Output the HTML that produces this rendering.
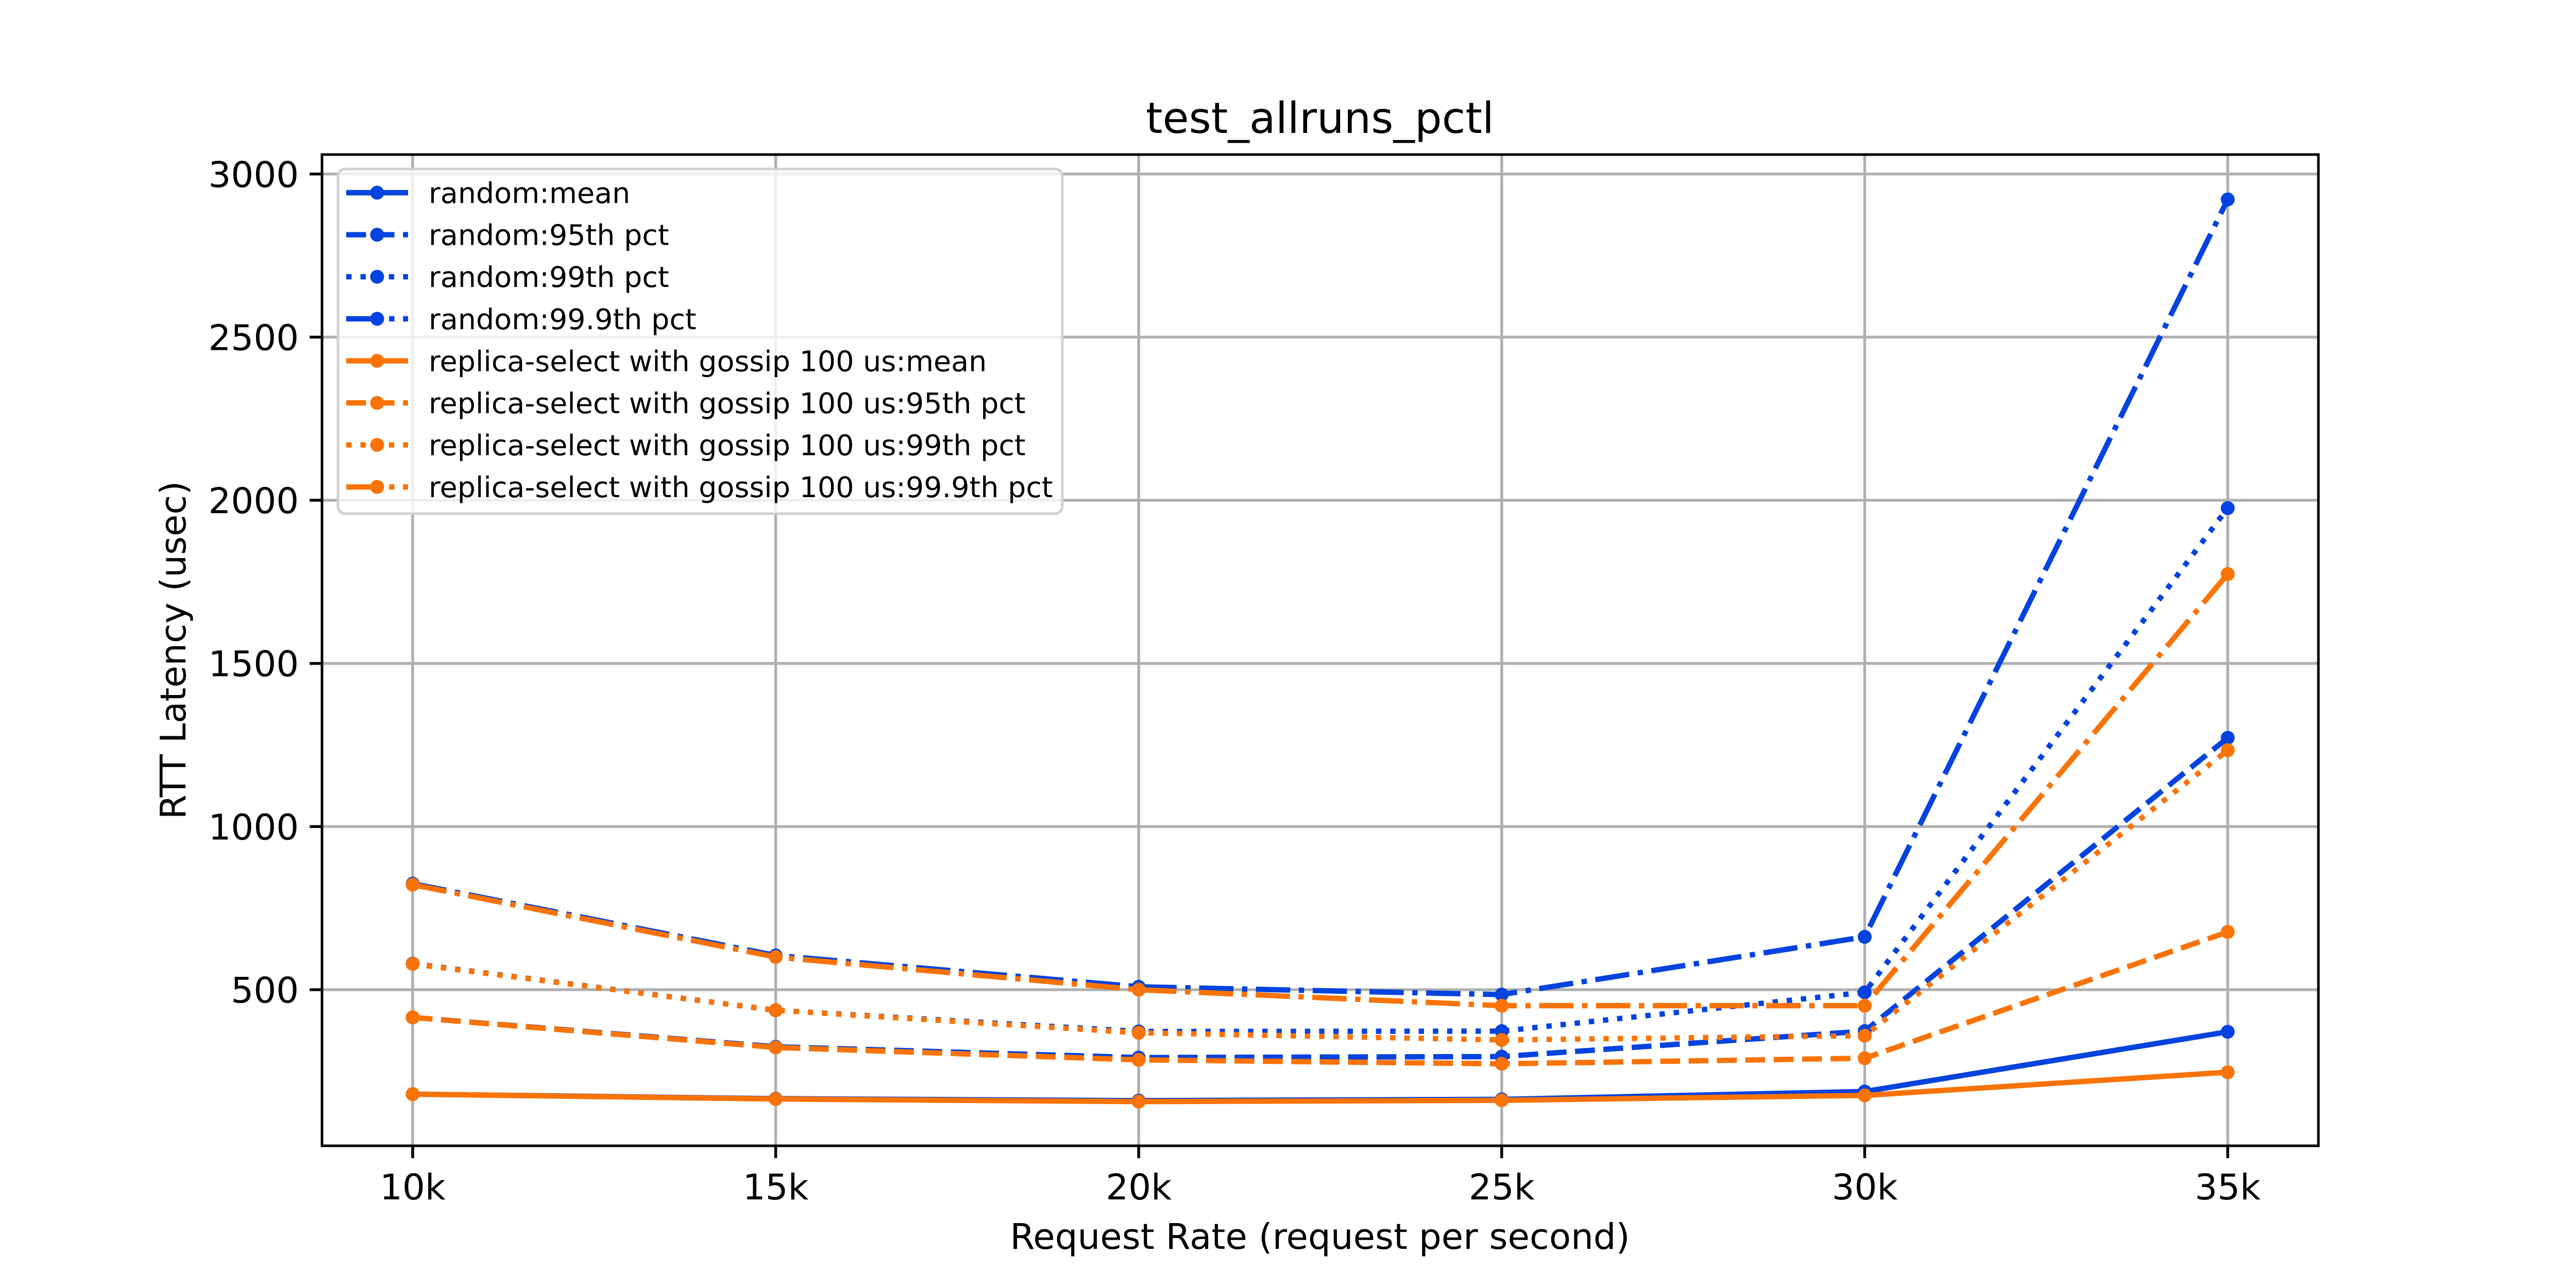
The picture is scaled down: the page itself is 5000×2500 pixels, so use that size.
<!DOCTYPE html>
<html><head><meta charset="utf-8"><style>
html,body{margin:0;padding:0;background:#fff;}
svg{display:block;font-family:"DejaVu Sans","Liberation Sans",sans-serif;}
</style></head><body>
<svg id="chart" width="5000" height="2500" viewBox="0 0 5000 2500" xmlns="http://www.w3.org/2000/svg">
<rect width="5000" height="2500" fill="#fff"/>
<g id="grid"></g>
<g id="series"></g>
<rect x="625" y="300" width="3875" height="1924" fill="none" stroke="#000" stroke-width="5"/>
<g id="ticks"></g>
<text x="2562" y="258" font-size="83" text-anchor="middle">test_allruns_pctl</text>
<text x="2562" y="2424" font-size="69" text-anchor="middle">Request Rate (request per second)</text>
<text transform="translate(360,1262) rotate(-90)" font-size="69" text-anchor="middle">RTT Latency (usec)</text>
<g id="legend"></g>
</svg>
<script>
const categories = [10, 15, 20, 25, 30, 35];
const xTickLabels = ["10k","15k","20k","25k","30k","35k"];
const yTicks = [500, 1000, 1500, 2000, 2500, 3000];
const seriesNames = ["random:mean","random:95th pct","random:99th pct","random:99.9th pct",
 "replica-select with gossip 100 us:mean","replica-select with gossip 100 us:95th pct",
 "replica-select with gossip 100 us:99th pct","replica-select with gossip 100 us:99.9th pct"];
const randomMean = [180, 166, 160, 164, 188, 371];
const random95 = [415, 325, 292, 295, 373, 1272];
const random99 = [580, 437, 372, 373, 492, 1976];
const random999 = [825, 605, 509, 485, 662, 2922];
const rsMean = [180, 165, 157, 161, 176, 247];
const rs95 = [415, 323, 285, 273, 290, 677];
const rs99 = [579, 437, 368, 346, 359, 1234];
const rs999 = [822, 600, 500, 451, 451, 1774];

const NS = "http://www.w3.org/2000/svg";
function xs(k){ return 801 + (k - 10) * 140.92; }
function ys(v){ return 1921 - (v - 500) * 0.6333; }
const BLUE = "#0343df", ORANGE = "#f97306";
const dashes = ["", "38.5,16.6", "10.4,17.2", "66.6,16.6,10.4,16.6"];
const allSeries = [randomMean, random95, random99, random999, rsMean, rs95, rs99, rs999];
function mk(tag, attrs, parent){ const e=document.createElementNS(NS,tag); for(const k in attrs) e.setAttribute(k,attrs[k]); parent.appendChild(e); return e; }

const grid = document.getElementById('grid');
const ticks = document.getElementById('ticks');
categories.forEach((c,i)=>{
  const x = xs(c);
  const gl = mk('line',{x1:x,x2:x,y1:300,y2:2224,stroke:'#b0b0b0','stroke-width':5.5},grid);
  
  
  const t = mk('line',{x1:x,x2:x,y1:2224,y2:2248,stroke:'#000','stroke-width':5.5},ticks);
  
  
  const lb = mk('text',{x:x,y:2328,'font-size':69,'text-anchor':'middle'},ticks);
  lb.textContent = xTickLabels[i];
  
  
});
yTicks.forEach(v=>{
  const y = ys(v);
  const gl = mk('line',{x1:625,x2:4500,y1:y,y2:y,stroke:'#b0b0b0','stroke-width':5.5},grid);
  
  
  const t = mk('line',{x1:601,x2:625,y1:y,y2:y,stroke:'#000','stroke-width':5.5},ticks);
  
  
  const lb = mk('text',{x:580,y:y+25,'font-size':69,'text-anchor':'end'},ticks);
  lb.textContent = String(v);
  
  
});

const sg = document.getElementById('series');
allSeries.forEach((vals,si)=>{
  const col = si < 4 ? BLUE : ORANGE;
  const g = mk('g',{},sg);
  
  
  const pts = vals.map((v,i)=>xs(categories[i]).toFixed(1)+','+ys(v).toFixed(1)).join(' ');
  const pl = mk('polyline',{points:pts,fill:'none',stroke:col,'stroke-width':10.4,'stroke-linejoin':'round'},g);
  if (dashes[si%4]) pl.setAttribute('stroke-dasharray', dashes[si%4]);
  
  
  vals.forEach((v,i)=>{
    const c = mk('circle',{cx:xs(categories[i]),cy:ys(v),r:13.5,fill:col},g);
    
    
  });
});

const lg = document.getElementById('legend');
const box = mk('rect',{x:656,y:328,width:1406,height:669,rx:14,fill:'#fff','fill-opacity':0.8,stroke:'#d0d0d0','stroke-width':5},lg);


seriesNames.forEach((n,i)=>{
  const y = 374 + i*81.6;
  const col = i < 4 ? BLUE : ORANGE;
  const g = mk('g',{},lg);
  
  
  const l = mk('line',{x1:672,x2:792,y1:y,y2:y,stroke:col,'stroke-width':10.4},g);
  if (dashes[i%4]) l.setAttribute('stroke-dasharray', dashes[i%4]);
  mk('circle',{cx:732,cy:y,r:13.5,fill:col},g);
  const t = mk('text',{x:832,y:y+20,'font-size':55.5},g);
  t.textContent = n;
});
</script>
</body></html>
